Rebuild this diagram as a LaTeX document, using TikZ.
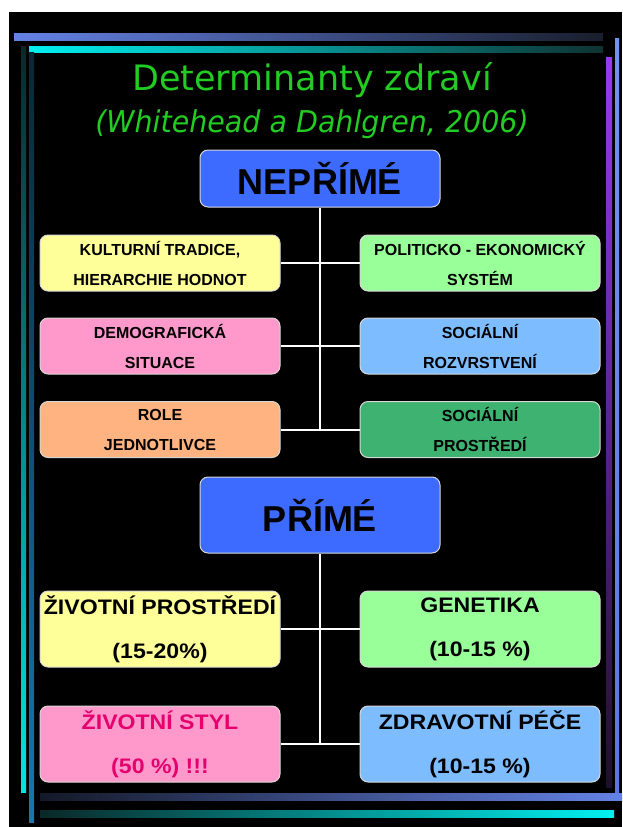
\documentclass[tikz,border=0pt]{standalone}
\usepackage{fontspec}
\setmainfont{Liberation Sans}
\newfontfamily\titlefont{DejaVu Sans}
\newfontfamily\subfont[FakeStretch=0.95]{DejaVu Sans}
\newfontfamily\widefont[FakeStretch=1.1]{Liberation Sans}
\definecolor{cyellow}{RGB}{255,255,153}
\definecolor{cgreen}{RGB}{153,255,153}
\definecolor{cpink}{RGB}{255,153,204}
\definecolor{cblue}{RGB}{125,188,255}
\definecolor{corange}{RGB}{255,179,128}
\definecolor{cdkgreen}{RGB}{62,178,112}
\definecolor{headblue}{RGB}{61,107,255}
\definecolor{stylepink}{RGB}{230,0,110}
\definecolor{boxline}{RGB}{215,215,215}
\definecolor{titlegreen}{RGB}{34,204,34}
\begin{document}
\begin{tikzpicture}[x=1pt,y=-1pt,
  box/.style={draw=boxline, line width=1pt, rounded corners=8pt, minimum width=240pt, inner sep=0pt, align=center, text=black},
  smallbox/.style={box, minimum height=56pt, font=\bfseries\fontsize{16}{30}\selectfont},
  bigbox/.style={box, minimum height=76pt, font=\widefont\bfseries\fontsize{21}{44}\selectfont},
  headbox/.style={box, fill=headblue, font=\bfseries\fontsize{36}{40}\selectfont},
  link/.style={draw=white, line width=2pt}
]
\useasboundingbox (0,0) rectangle (622,827);
\fill[white] (0,0) rectangle (622,827);
\fill[black] (9,12) rectangle (622,827);
% frame bars
\shade[left color={rgb,255:red,100;green,130;blue,230}, right color={rgb,255:red,25;green,30;blue,45}] (14,33) rectangle (603,40);
\shade[left color={rgb,255:red,0;green,240;blue,240}, right color={rgb,255:red,15;green,50;blue,50}] (29,46) rectangle (603,52);
\shade[top color={rgb,255:red,10;green,40;blue,40}, bottom color={rgb,255:red,0;green,230;blue,230}] (21,46) rectangle (26,792);
\shade[top color={rgb,255:red,10;green,40;blue,50}, bottom color={rgb,255:red,20;green,120;blue,180}] (29,52) rectangle (34,822);
\shade[top color={rgb,255:red,150;green,60;blue,240}, bottom color={rgb,255:red,30;green,15;blue,45}] (606,57) rectangle (612,787);
\shade[top color={rgb,255:red,110;green,150;blue,235}, bottom color={rgb,255:red,90;green,120;blue,220}] (615,38) rectangle (619,800);
\shade[left color={rgb,255:red,20;green,25;blue,40}, right color={rgb,255:red,100;green,130;blue,230}] (40,793) rectangle (622,800);
\shade[left color={rgb,255:red,10;green,40;blue,40}, right color={rgb,255:red,0;green,240;blue,240}] (40,810) rectangle (614,817);
% titles
\node[anchor=base, text=titlegreen, font=\titlefont\fontsize{35}{38}\selectfont, inner sep=0pt] (title) at (312,90) {Determinanty zdraví};
\node[anchor=base, text=titlegreen, font=\subfont\itshape\fontsize{30}{32}\selectfont, inner sep=0pt] (subtitle) at (312,132) {(Whitehead a Dahlgren, 2006)};
% upper part
\node[headbox, minimum height=57pt] (nep) at (320,178.5) {NEPŘÍMÉ};
\node[smallbox, fill=cyellow] (r1l) at (160,263) {KULTURNÍ TRADICE,\\HIERARCHIE HODNOT};
\node[smallbox, fill=cgreen] (r1r) at (480,263) {POLITICKO - EKONOMICKÝ\\SYSTÉM};
\node[smallbox, fill=cpink] (r2l) at (160,346) {DEMOGRAFICKÁ\\SITUACE};
\node[smallbox, fill=cblue] (r2r) at (480,346) {SOCIÁLNÍ\\ROZVRSTVENÍ};
\node[smallbox, fill=corange] (r3l) at (160,429.5) {ROLE\\JEDNOTLIVCE};
\node[smallbox, fill=cdkgreen] (r3r) at (480,429.5) {SOCIÁLNÍ\\PROSTŘEDÍ};
\draw[link] (nep.south) -- (nep.south |- r3l.east);
\draw[link] (r1l.east) -- (r1r.west);
\draw[link] (r2l.east) -- (r2r.west);
\draw[link] (r3l.east) -- (r3r.west);
% lower part
\node[headbox, minimum height=76pt] (pri) at (320,515) {PŘÍMÉ};
\node[bigbox, fill=cyellow] (aL) at (160,629) {ŽIVOTNÍ PROSTŘEDÍ\\(15-20\%)};
\node[bigbox, fill=cgreen] (aR) at (480,629) {GENETIKA\\(10-15 \%)};
\node[bigbox, fill=cpink, text=stylepink] (bL) at (160,744) {ŽIVOTNÍ STYL\\(50 \%) !!!};
\node[bigbox, fill=cblue] (bR) at (480,744) {ZDRAVOTNÍ PÉČE\\(10-15 \%)};
\draw[link] (pri.south) -- (pri.south |- bL.east);
\draw[link] (aL.east) -- (aR.west);
\draw[link] (bL.east) -- (bR.west);
\end{tikzpicture}
\end{document}
